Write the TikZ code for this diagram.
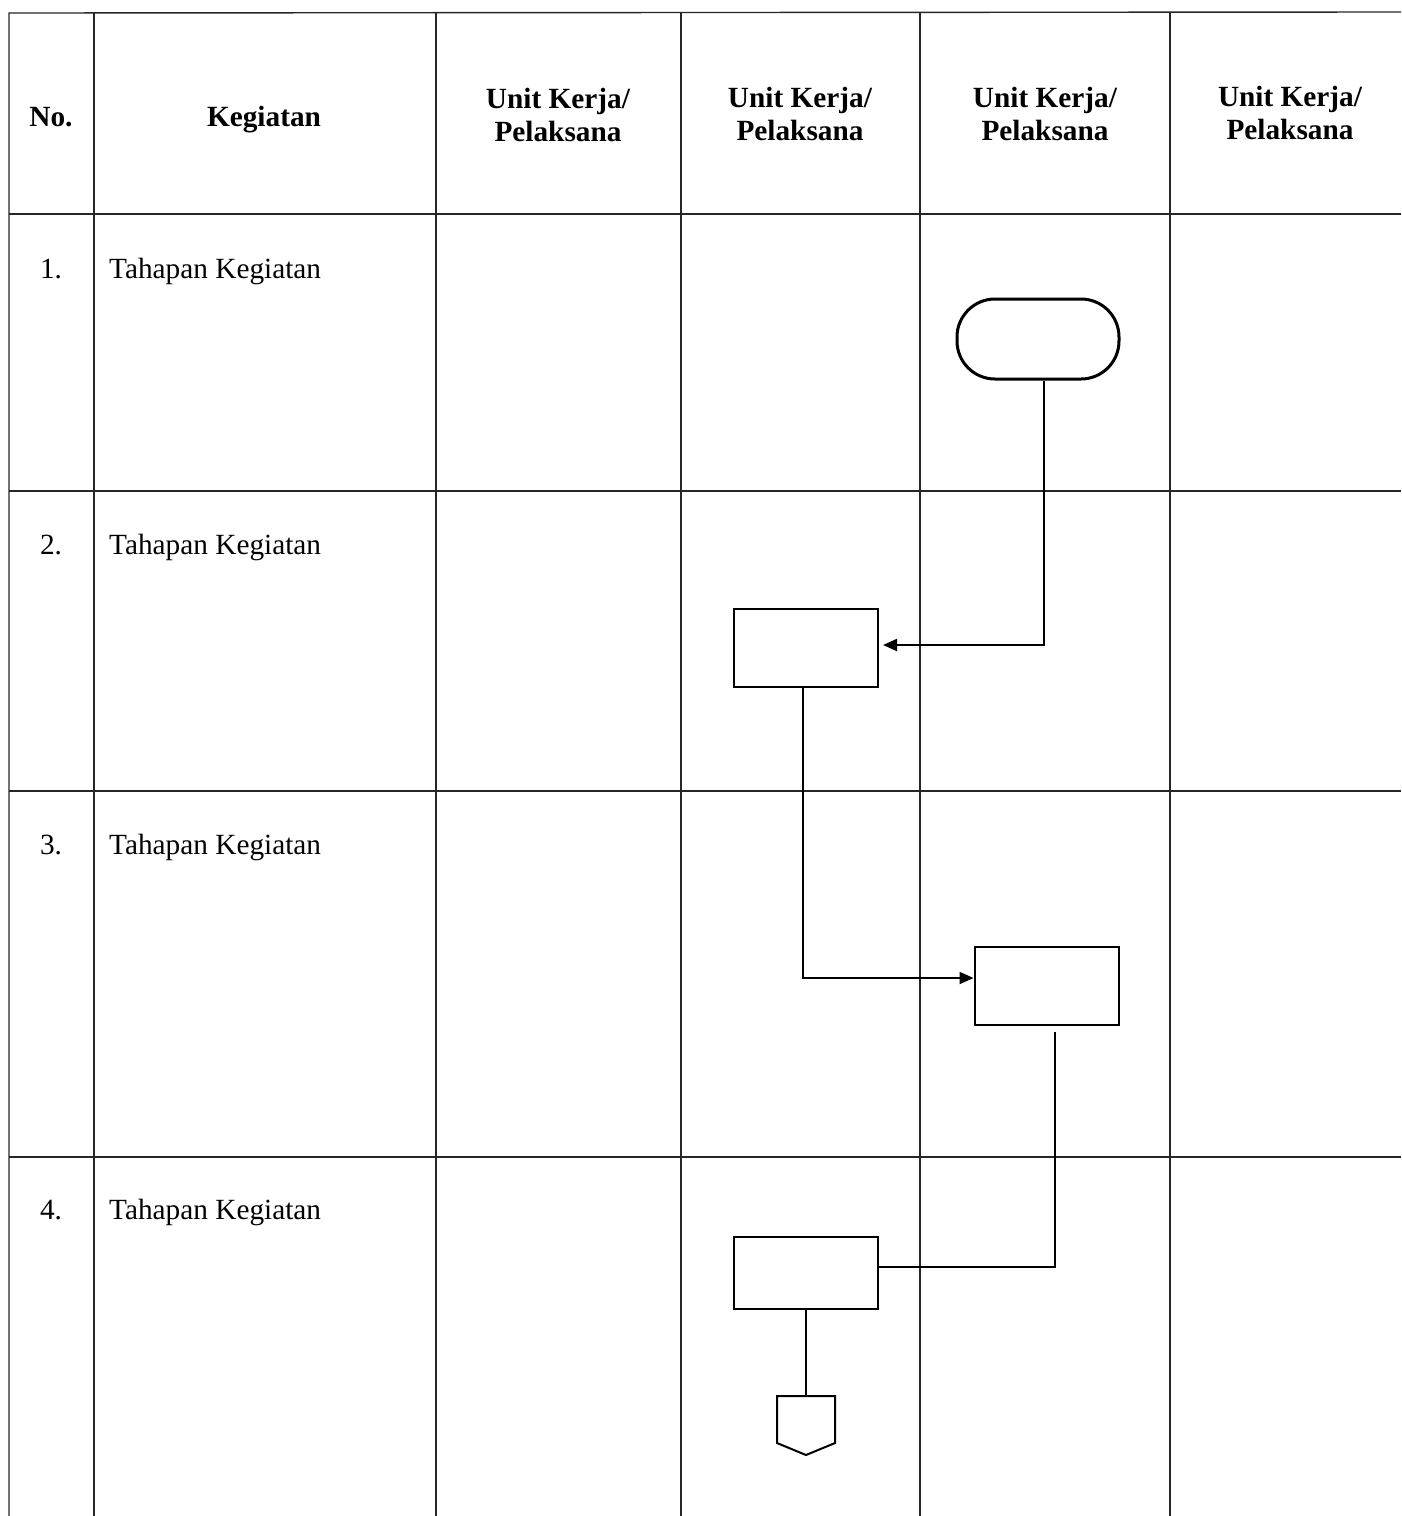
\documentclass[tikz,border=0pt]{standalone}
\usepackage{fontspec}
\setmainfont{Liberation Serif}
\usetikzlibrary{arrows.meta}
\begin{document}
\begin{tikzpicture}[x=1pt,y=-1pt,
  grid/.style={line width=1.4pt,black!85},
  head/.style={font=\fontsize{29.3}{33}\selectfont\bfseries,align=center,inner sep=0pt},
  txt/.style={font=\fontsize{29.3}{33}\selectfont,inner sep=0pt},
  procbox/.style={draw,line width=2pt,minimum width=144pt,minimum height=78pt,inner sep=0pt},
  termbox/.style={draw,line width=3pt,rounded corners=38pt,minimum width=162pt,minimum height=80pt,inner sep=0pt},
  flow/.style={line width=2pt},
  arr/.style={flow,-{Triangle[length=14pt,width=12pt]}}]
\useasboundingbox (0,0) rectangle (1401,1516);
% table grid
\draw[grid] (1401,12) -- (9,13) -- (9,1516);
\foreach \x in {94,436,681,920,1170} \draw[grid] (\x,12) -- (\x,1516);
\foreach \y in {214,491,791,1157} \draw[grid] (9,\y) -- (1401,\y);
% headers
\node[head] (hno) at (51,117) {No.};
\node[head] (hkeg) at (264,120) {Kegiatan};
\node[head] (hu1) at (558,115) {Unit Kerja/\\Pelaksana};
\node[head] (hu2) at (800,114) {Unit Kerja/\\Pelaksana};
\node[head] (hu3) at (1045,114) {Unit Kerja/\\Pelaksana};
\node[head] (hu4) at (1290,113) {Unit Kerja/\\Pelaksana};
% rows
\node[txt] (n1) at (51,269) {1.};
\node[txt,anchor=west] (k1) at (109,271) {Tahapan Kegiatan};
\node[txt] (n2) at (51,545) {2.};
\node[txt,anchor=west] (k2) at (109,547) {Tahapan Kegiatan};
\node[txt] (n3) at (51,845) {3.};
\node[txt,anchor=west] (k3) at (109,847) {Tahapan Kegiatan};
\node[txt] (n4) at (51,1210) {4.};
\node[txt,anchor=west] (k4) at (109,1212) {Tahapan Kegiatan};
% shapes
\node[termbox] (term) at (1038,339) {};
\node[procbox] (b1) at (806,648) {};
\node[procbox] (b2) at (1046.5,986) {};
\node[procbox,minimum height=72pt] (b3) at (806,1273) {};
\coordinate (off) at (806,1396);
\draw[flow,line join=miter] (off) -- ++(29,0) -- ++(0,47) -- ++(-29,12) -- ++(-29,-12) -- ++(0,-47) -- cycle;
% connectors
\draw[arr] ([xshift=6pt]term.south) |- ([xshift=4pt,yshift=3pt]b1.east);
\draw[arr] ([xshift=-3pt]b1.south) |- ([yshift=8pt]b2.west);
\draw[flow] ([xshift=8.5pt,yshift=-6pt]b2.south) |- ([yshift=6pt]b3.east);
\draw[flow] (b3.south) -- (off);
\end{tikzpicture}
\end{document}
